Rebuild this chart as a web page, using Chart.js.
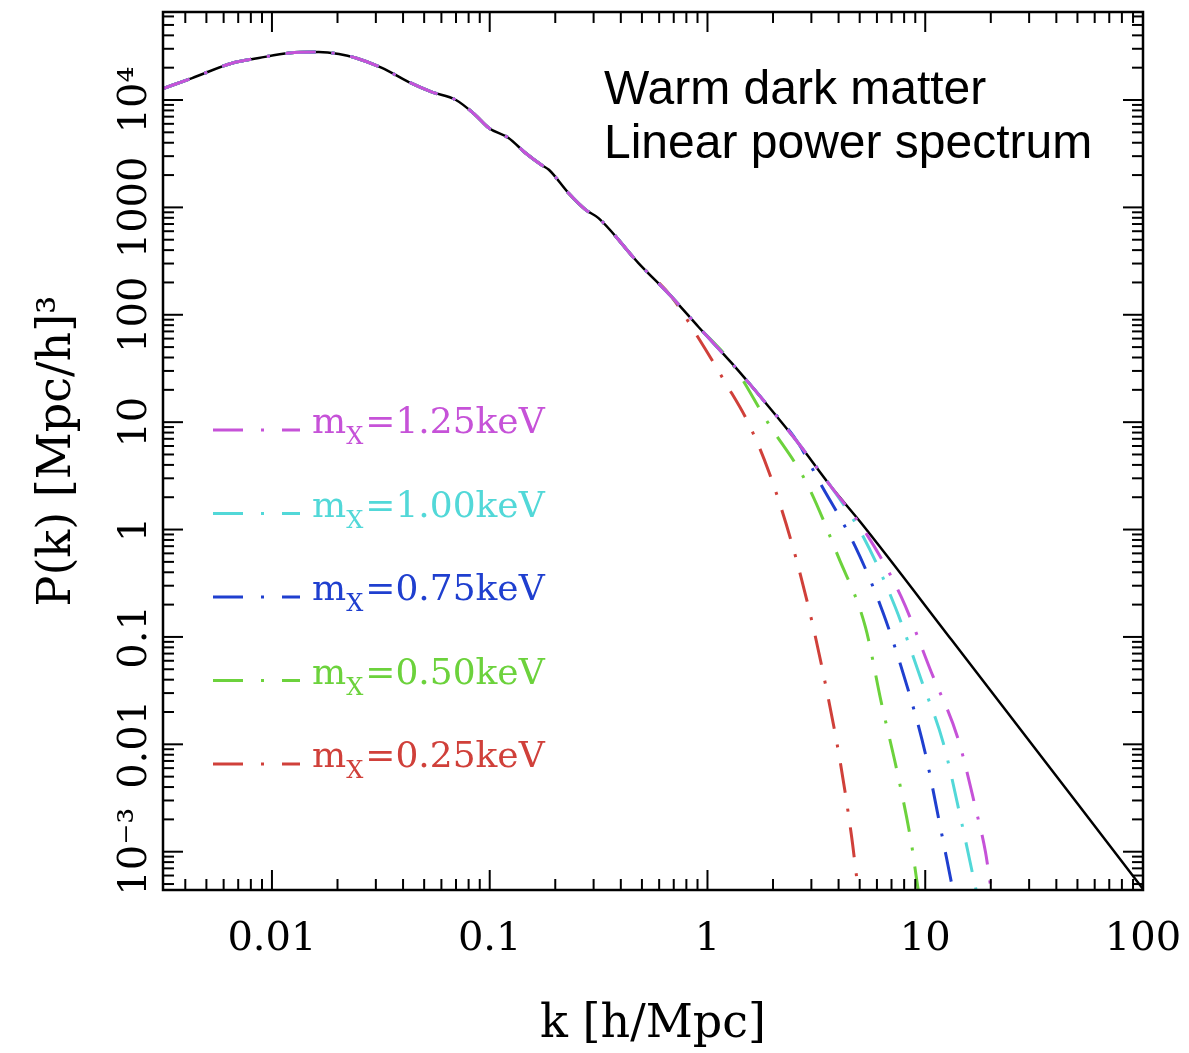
<!DOCTYPE html>
<html>
<head>
<meta charset="utf-8">
<script src="https://cdn.jsdelivr.net/npm/chart.js@4.4.0/dist/chart.umd.min.js"></script>
<style>
  html, body { margin: 0; padding: 0; background: #fff; }
  #wrap { width: 1189px; height: 1053px; }
</style>
</head>
<body>
<div id="wrap"><canvas id="pk" width="1189" height="1053"></canvas></div>
<script>
// CDM linear power spectrum (black line)
var kCdm = [0.0031, 0.0043, 0.0066, 0.0087, 0.012, 0.0164, 0.0203, 0.0243, 0.032, 0.0425, 0.054, 0.070, 0.086, 0.099, 0.122, 0.146, 0.173, 0.187, 0.230, 0.275, 0.316, 0.482, 0.684, 0.91, 1.29, 1.85, 2.61, 3.70, 5.08, 13.2, 100];
var pCdm = [12600, 16000, 22100, 24600, 27400, 28000, 26800, 24600, 19900, 14700, 11900, 10000, 7240, 5500, 4430, 3210, 2480, 2240, 1360, 955, 794, 303, 147, 77, 35.6, 15.1, 6.4, 2.5, 1.15, 0.094, 0.00045];

// warm dark matter masses (keV) and colours
var masses = ['1.25', '1.00', '0.75', '0.50', '0.25'];
var wdmColors = ['#c652d8', '#52d8d8', '#1f3fcf', '#6cd23c', '#d0403a'];
// last CDM point each WDM curve still shares
var kShared = [3.70, 3.70, 2.61, 1.29, 0.684];

// cut-off tails
var kTail125 = [5.3, 7.76, 10.7, 14.2, 17.1, 18.9, 20.1, 20.4];
var pTail125 = [0.95, 0.236, 0.0462, 0.011, 0.00245, 0.0010, 0.00044, 0.00038];
var kTail100 = [5.2, 7.28, 9.59, 12.1, 14.6, 17.0, 17.3];
var pTail100 = [0.853, 0.19, 0.0398, 0.0103, 0.00198, 0.00047, 0.00040];
var kTail075 = [3.23, 4.78, 6.41, 8.35, 10.0, 11.8, 13.4, 13.6];
var pTail075 = [2.9, 0.689, 0.167, 0.0321, 0.0083, 0.0016, 0.00044, 0.00038];
var kTail050 = [1.90, 2.85, 3.99, 5.31, 6.29, 7.52, 8.63, 9.29, 9.45];
var pTail050 = [9.8, 2.72, 0.556, 0.124, 0.0243, 0.00498, 0.00121, 0.00044, 0.00037];
var kTail025 = [0.909, 1.21, 1.54, 1.90, 2.43, 2.97, 3.51, 4.07, 4.58, 4.93, 5.0];
var pTail025 = [60.8, 23.2, 9.84, 3.59, 0.767, 0.160, 0.0335, 0.00686, 0.00143, 0.00044, 0.00037];

var kTails = [kTail125, kTail100, kTail075, kTail050, kTail025];
var pTails = [pTail125, pTail100, pTail075, pTail050, pTail025];

// axis ticks
var xTickValues = [0.01, 0.1, 1, 10, 100];
var xTickLabels = ['0.01', '0.1', '1', '10', '100'];
var yTickValues = [1e-3, 0.01, 0.1, 1, 10, 100, 1000, 1e4];
var yTickLabels = ['10\u207B\u00B3', '0.01', '0.1', '1', '10', '100', '1000', '10\u2074'];

var noteLines = ['Warm dark matter', 'Linear power spectrum'];

function buildCurve(kLast, kt, pt) {
  var pts = [];
  for (var i = 0; i < kCdm.length && kCdm[i] <= kLast; i++) {
    pts.push({ x: kCdm[i], y: pCdm[i] });
  }
  for (var j = 0; j < kt.length; j++) {
    pts.push({ x: kt[j], y: pt[j] });
  }
  return pts;
}

var dashDot = [30, 16, 3, 16];
var datasets = [];
for (var i = 0; i < masses.length; i++) {
  datasets.push({
    label: 'm_X=' + masses[i] + 'keV',
    data: buildCurve(kShared[i], kTails[i], pTails[i]),
    borderColor: wdmColors[i],
    borderWidth: 3,
    borderDash: dashDot,
    pointRadius: 0,
    cubicInterpolationMode: 'monotone'
  });
}
datasets.push({
  label: 'CDM',
  data: kCdm.map(function (k, idx) { return { x: k, y: pCdm[idx] }; }),
  borderColor: '#000',
  borderWidth: 2.5,
  pointRadius: 0,
  cubicInterpolationMode: 'monotone'
});

function line(ctx, x1, y1, x2, y2) {
  ctx.beginPath();
  ctx.moveTo(x1, y1);
  ctx.lineTo(x2, y2);
  ctx.stroke();
}

// frame + inward ticks on all four sides
var frameTicks = {
  id: 'frameTicks',
  afterDraw: function (chart) {
    var ctx = chart.ctx, a = chart.chartArea;
    var xs = chart.scales.x, ys = chart.scales.y;
    ctx.save();
    ctx.strokeStyle = '#000';
    ctx.lineWidth = 2;
    for (var e = -4; e <= 5; e++) {
      for (var m = 1; m <= 9; m++) {
        var v = m * Math.pow(10, e);
        var len = m === 1 ? 20 : 11;
        if (v >= xs.min && v <= xs.max) {
          var px = xs.getPixelForValue(v);
          line(ctx, px, a.bottom, px, a.bottom - len);
          line(ctx, px, a.top, px, a.top + len);
        }
        if (v >= ys.min && v <= ys.max) {
          var py = ys.getPixelForValue(v);
          line(ctx, a.left, py, a.left + len, py);
          line(ctx, a.right, py, a.right - len, py);
        }
      }
    }
    ctx.lineWidth = 2.5;
    ctx.strokeRect(a.left, a.top, a.right - a.left, a.bottom - a.top);
    ctx.restore();
  }
};

// legend with subscript, and the note at top right
var notes = {
  id: 'notes',
  afterDraw: function (chart) {
    var ctx = chart.ctx;
    ctx.save();
    var y0 = 433, step = 83.5;
    for (var i = 0; i < masses.length; i++) {
      var y = y0 + i * step;
      ctx.strokeStyle = wdmColors[i];
      ctx.lineWidth = 3;
      ctx.setLineDash([30, 18, 3, 18]);
      line(ctx, 213, y - 3, 300, y - 3);
      ctx.setLineDash([]);
      ctx.fillStyle = wdmColors[i];
      ctx.textBaseline = 'alphabetic';
      ctx.textAlign = 'left';
      ctx.font = '36px "DejaVu Serif"';
      ctx.fillText('m', 312, y);
      var x = 312 + ctx.measureText('m').width;
      ctx.font = '24px "DejaVu Serif"';
      ctx.fillText('X', x, y + 11);
      x += ctx.measureText('X').width + 2;
      ctx.font = '36px "DejaVu Serif"';
      ctx.fillText('=' + masses[i] + 'keV', x, y);
    }
    ctx.fillStyle = '#000';
    ctx.font = '48px "Liberation Sans", Arial, sans-serif';
    for (var j = 0; j < noteLines.length; j++) {
      ctx.fillText(noteLines[j], 604, 104 + j * 54);
    }
    ctx.restore();
  }
};

var tickFont = { family: '"DejaVu Serif"', size: 40 };
var titleFont = { family: '"DejaVu Serif"', size: 46 };

new Chart(document.getElementById('pk'), {
  type: 'line',
  data: { datasets: datasets },
  options: {
    responsive: false,
    animation: false,
    devicePixelRatio: 1,
    layout: { padding: { left: 0, right: 46, top: 12, bottom: 0 } },
    plugins: { legend: { display: false }, tooltip: { enabled: false } },
    scales: {
      x: {
        type: 'logarithmic',
        min: 0.00316,
        max: 100,
        grid: { display: false, drawTicks: false },
        border: { display: false },
        afterBuildTicks: function (axis) {
          axis.ticks = xTickValues.map(function (v) { return { value: v }; });
        },
        afterFit: function (axis) {
          axis.height = 163;
          axis.paddingLeft = 0;
          axis.paddingRight = 0;
        },
        ticks: {
          autoSkip: false,
          maxRotation: 0,
          padding: 26,
          color: '#000',
          font: tickFont,
          callback: function (v) {
            var idx = xTickValues.indexOf(v);
            return idx >= 0 ? xTickLabels[idx] : '';
          }
        },
        title: {
          display: true,
          text: 'k [h/Mpc]',
          color: '#000',
          font: titleFont,
          padding: { top: 0, bottom: 0 }
        }
      },
      y: {
        type: 'logarithmic',
        min: 0.00044,
        max: 66000,
        grid: { display: false, drawTicks: false },
        border: { display: false },
        afterBuildTicks: function (axis) {
          axis.ticks = yTickValues.map(function (v) { return { value: v }; });
        },
        afterFit: function (axis) {
          axis.width = 163;
          axis.paddingTop = 0;
          axis.paddingBottom = 0;
        },
        ticks: {
          autoSkip: false,
          minRotation: 90,
          maxRotation: 90,
          crossAlign: 'center',
          padding: -24,
          color: '#000',
          font: tickFont,
          callback: function (v) {
            var idx = yTickValues.indexOf(v);
            return idx >= 0 ? yTickLabels[idx] : '';
          }
        },
        title: {
          display: true,
          text: 'P(k) [Mpc/h]\u00B3',
          color: '#000',
          font: titleFont,
          padding: { top: 30, bottom: 0 }
        }
      }
    }
  },
  plugins: [frameTicks, notes]
});
</script>
</body>
</html>
